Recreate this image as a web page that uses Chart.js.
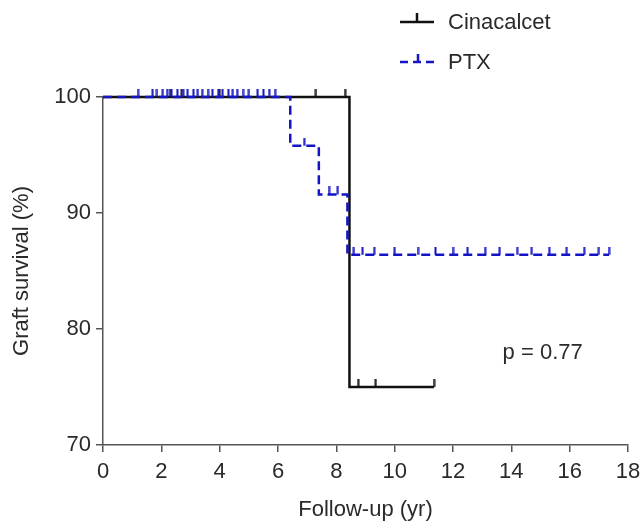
<!DOCTYPE html>
<html>
<head>
<meta charset="utf-8">
<script src="https://cdn.jsdelivr.net/npm/chart.js@4/dist/chart.umd.min.js"></script>
<style>
  html, body { margin: 0; padding: 0; background: #fff; }
  #wrap { width: 641px; height: 522px; position: relative; }
</style>
</head>
<body>
<div id="wrap"><canvas id="kmChart" width="641" height="522"></canvas></div>
<script>
// Kaplan-Meier data
const cinaTimes = [0, 8.45];
const cinaSurv = [100, 75];
const cinaEnd = 11.35;
const cinaCensor = [2.3, 2.7, 4.0, 7.3, 8.3, 8.75, 9.35, 11.35];

const ptxTimes = [0, 6.42, 7.4, 8.38];
const ptxSurv = [100, 95.8, 91.6, 86.4];
const ptxEnd = 17.35;
const ptxCensor = [1.2, 1.7, 1.85, 2.05, 2.2, 2.35, 2.55, 2.75, 2.9, 3.1, 3.25, 3.4, 3.6, 3.75,
    3.95, 4.1, 4.3, 4.45, 4.6, 4.8, 5.0, 5.3, 5.5, 5.7, 5.9,
    6.9, 7.75, 8.05,
    8.6, 8.9, 9.3, 10.0, 10.8, 11.4, 12.0, 12.5, 13.1, 13.6, 14.2, 14.7, 15.3, 15.9, 16.5, 17.0, 17.35];

const xTicks = [0, 2, 4, 6, 8, 10, 12, 14, 16, 18];
const yTicks = [70, 80, 90, 100];

const BLACK = '#111111';
const BLUE = '#1414c4';
const TEXT = '#2a2a2a';
const FONT = "'Liberation Sans', Arial, sans-serif";

// step line: holds the value until the next event, then runs to the end of follow-up
function stepPoints(times, surv, end) {
    const pts = times.map((t, i) => ({ x: t, y: surv[i] }));
    pts.push({ x: end, y: surv[surv.length - 1] });
    return pts;
}

// survival value at time t (for placing censor marks on the curve)
function survAt(times, surv, t) {
    let s = surv[0];
    times.forEach((tt, i) => { if (tt <= t) s = surv[i]; });
    return s;
}

// small upward tick used as the censor mark
function tickImage(color) {
    const c = document.createElement('canvas');
    c.width = 3;
    c.height = 16;
    const g = c.getContext('2d');
    g.fillStyle = color;
    g.fillRect(0.5, 0, 2, 8);
    return c;
}

const cinaTick = tickImage(BLACK);
const ptxTick = tickImage(BLUE);

// legend and p value drawn on the canvas
const extrasPlugin = {
    id: 'extras',
    afterDraw(chart) {
        const ctx = chart.ctx;
        ctx.save();
        ctx.font = '22px ' + FONT;
        ctx.textBaseline = 'middle';
        ctx.fillStyle = TEXT;

        // Cinacalcet entry
        ctx.strokeStyle = BLACK;
        ctx.lineWidth = 2.5;
        ctx.beginPath();
        ctx.moveTo(400, 22);
        ctx.lineTo(434, 22);
        ctx.moveTo(417, 22);
        ctx.lineTo(417, 13);
        ctx.stroke();
        ctx.fillText('Cinacalcet', 448, 23);

        // PTX entry
        ctx.strokeStyle = BLUE;
        ctx.setLineDash([8, 5]);
        ctx.beginPath();
        ctx.moveTo(400, 62);
        ctx.lineTo(438, 62);
        ctx.stroke();
        ctx.setLineDash([]);
        ctx.beginPath();
        ctx.moveTo(418, 62);
        ctx.lineTo(418, 54);
        ctx.stroke();
        ctx.fillText('PTX', 448, 63);

        // log-rank p value
        const xs = chart.scales.x, ys = chart.scales.y;
        ctx.fillText('p = 0.77', xs.getPixelForValue(13.7), ys.getPixelForValue(77.9));
        ctx.restore();
    }
};

new Chart(document.getElementById('kmChart'), {
    type: 'scatter',
    data: {
        datasets: [
            {
                label: 'PTX',
                data: stepPoints(ptxTimes, ptxSurv, ptxEnd),
                showLine: true,
                stepped: 'before',
                borderColor: BLUE,
                borderWidth: 2.5,
                borderDash: [9, 5],
                pointRadius: 0,
                clip: false,
                order: 1
            },
            {
                label: 'PTX censored',
                data: ptxCensor.map(t => ({ x: t, y: survAt(ptxTimes, ptxSurv, t) })),
                pointStyle: ptxTick,
                pointRadius: 4,
                clip: false,
                order: 0
            },
            {
                label: 'Cinacalcet',
                data: stepPoints(cinaTimes, cinaSurv, cinaEnd),
                showLine: true,
                stepped: 'before',
                borderColor: BLACK,
                borderWidth: 2.5,
                pointRadius: 0,
                clip: false,
                order: 3
            },
            {
                label: 'Cinacalcet censored',
                data: cinaCensor.map(t => ({ x: t, y: survAt(cinaTimes, cinaSurv, t) })),
                pointStyle: cinaTick,
                pointRadius: 4,
                clip: false,
                order: 2
            }
        ]
    },
    options: {
        responsive: false,
        animation: false,
        layout: { padding: { top: 97, right: 13, left: 0, bottom: 0 } },
        plugins: {
            legend: { display: false },
            tooltip: { enabled: false }
        },
        scales: {
            x: {
                type: 'linear',
                min: 0,
                max: 18,
                afterBuildTicks: s => { s.ticks = xTicks.map(v => ({ value: v })); },
                afterFit: s => { s.height = 77; s.paddingLeft = 0; s.paddingRight = 0; },
                grid: { drawOnChartArea: false, drawTicks: true, tickLength: 7, color: '#555', lineWidth: 1.5 },
                border: { color: '#555', width: 1.5 },
                ticks: { color: TEXT, font: { family: FONT, size: 22 }, padding: 7, maxRotation: 0 },
                title: { display: true, text: 'Follow-up (yr)', color: TEXT, font: { family: FONT, size: 22, lineHeight: 1 }, padding: { top: 0, bottom: 1 } }
            },
            y: {
                type: 'linear',
                min: 70,
                max: 100,
                afterBuildTicks: s => { s.ticks = yTicks.map(v => ({ value: v })); },
                afterFit: s => { s.width = 103; s.paddingTop = 0; s.paddingBottom = 0; },
                grid: { drawOnChartArea: false, drawTicks: true, tickLength: 7, color: '#555', lineWidth: 1.5 },
                border: { color: '#555', width: 1.5 },
                ticks: { color: TEXT, font: { family: FONT, size: 22 }, padding: 5 },
                title: { display: true, text: 'Graft survival (%)', color: TEXT, font: { family: FONT, size: 22, lineHeight: 1 }, padding: { top: 11, bottom: 0 } }
            }
        }
    },
    plugins: [extrasPlugin]
});
</script>
</body>
</html>
